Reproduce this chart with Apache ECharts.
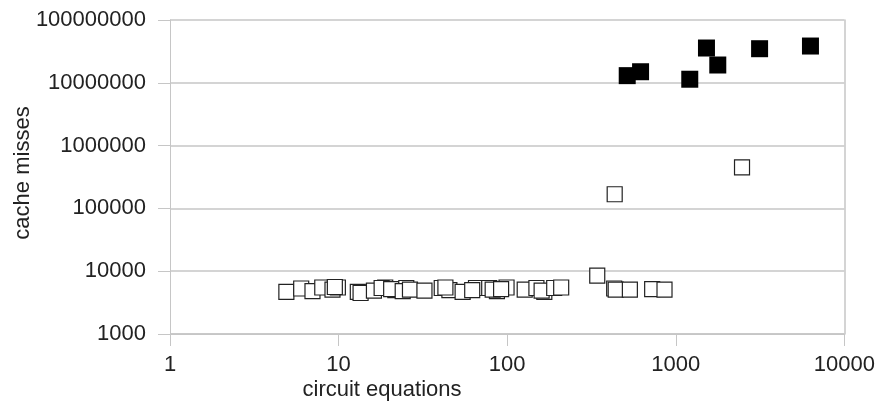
<!DOCTYPE html>
<html>
<head>
<meta charset="utf-8">
<script src="https://cdn.jsdelivr.net/npm/echarts@6/dist/echarts.min.js"></script>
<style>
html,body{margin:0;padding:0;background:#fff;}
#c{width:878px;height:405px;}
</style>
</head>
<body>
<div id="c"></div>
<script>
// tick labels
const xTicks = [1, 10, 100, 1000, 10000];
const yTicks = [1000, 10000, 100000, 1000000, 10000000, 100000000];
const xTitle = 'circuit equations';
const yTitle = 'cache misses';

// open squares: [equations, misses]
const openEq = [4.9, 6.0, 7.0, 8.0, 9.2, 9.9, 9.5, 13.0, 13.5, 16.2, 18.9, 18.0, 21.7, 20.5, 25.2, 24, 26.5,
  32.3, 40.9, 45.4, 43, 54.4, 65.3, 62, 78.2, 86.9, 82, 99.1, 92, 127, 149, 166, 160, 190, 209,
  342, 431, 440, 534, 724, 857, 434, 2470];
const openMiss = [4700, 5300, 4800, 5500, 5100, 5500, 5600, 4700, 4500, 4900, 5500, 5400, 5000, 5200, 5400, 4800, 5100,
  4900, 5400, 5000, 5500, 4700, 5400, 5000, 5400, 4800, 5100, 5500, 5200, 5100, 5400, 4700, 4900, 5400, 5500,
  8500, 5300, 5100, 5100, 5200, 5100, 168000, 450000];

// filled squares
const fillEq = [515, 618, 1520, 1774, 1210, 3140, 6290];
const fillMiss = [13000000, 15000000, 35800000, 19200000, 11400000, 34900000, 38500000];

const openData = openEq.map((v, i) => [v, openMiss[i]]);
const fillData = fillEq.map((v, i) => [v, fillMiss[i]]);

const FONT = '"Liberation Sans", Arial, sans-serif';
const gridColor = '#c6c6c6';

const chart = echarts.init(document.getElementById('c'), null, {renderer: 'canvas'});
chart.setOption({
  animation: false,
  backgroundColor: '#fff',
  grid: {left: 170, right: 32, top: 20, bottom: 71, containLabel: false},
  xAxis: {
    type: 'log', logBase: 10, min: xTicks[0], max: xTicks[xTicks.length - 1],
    axisLine: {show: true, lineStyle: {color: gridColor, width: 1}},
    axisTick: {show: true, length: 12, lineStyle: {color: gridColor}},
    minorTick: {show: false},
    splitLine: {show: false},
    axisLabel: {fontFamily: FONT, fontSize: 22, color: '#222', margin: 20,
      formatter: v => String(Math.round(v))}
  },
  yAxis: [{
    type: 'log', logBase: 10, min: yTicks[0], max: yTicks[yTicks.length - 1],
    axisLine: {show: true, lineStyle: {color: gridColor, width: 1}},
    axisTick: {show: true, length: 12, lineStyle: {color: gridColor}},
    splitLine: {show: true, lineStyle: {color: gridColor, width: 1.5}},
    axisLabel: {fontFamily: FONT, fontSize: 22, color: '#222', margin: 24,
      formatter: v => String(Math.round(v))}
  }, {
    type: 'log', logBase: 10, min: yTicks[0], max: yTicks[yTicks.length - 1],
    position: 'right',
    axisLine: {show: true, lineStyle: {color: gridColor, width: 1.5}},
    axisTick: {show: false}, axisLabel: {show: false}, splitLine: {show: false}
  }],
  graphic: [
    {type: 'text', x: 382, y: 390,
      style: {text: xTitle, font: '22px ' + FONT, fill: '#222', align: 'center', verticalAlign: 'middle'}},
    {type: 'text', x: 23, y: 173, rotation: Math.PI / 2,
      style: {text: yTitle, font: '22px ' + FONT, fill: '#222', align: 'center', verticalAlign: 'middle'}}
  ],
  series: [
    {type: 'scatter', yAxisIndex: 0, data: openData, symbol: 'rect', symbolSize: 15,
      itemStyle: {color: '#fff', borderColor: '#222', borderWidth: 1.2, opacity: 1}},
    {type: 'scatter', yAxisIndex: 0, data: fillData, symbol: 'rect', symbolSize: 17,
      itemStyle: {color: '#000', borderColor: '#000', borderWidth: 0, opacity: 1}}
  ]
});
</script>
</body>
</html>
